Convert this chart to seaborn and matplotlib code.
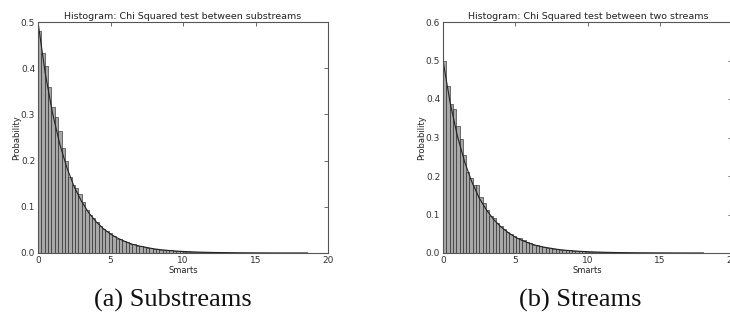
import numpy as np
import pandas as pd
import matplotlib
matplotlib.use("Agg")
import matplotlib.pyplot as plt
import seaborn as sns

# ---- data ----
sub_heights = [0.480, 0.433, 0.405, 0.360, 0.315, 0.295, 0.265, 0.228, 0.200, 0.165,
               0.148, 0.140, 0.128, 0.110, 0.092, 0.082, 0.075, 0.068, 0.058, 0.052,
               0.047, 0.043, 0.037, 0.031, 0.030, 0.027, 0.023, 0.020, 0.019, 0.016,
               0.015, 0.013, 0.011, 0.010, 0.009, 0.008, 0.0075, 0.0065, 0.0058, 0.0060,
               0.0048, 0.0038, 0.0034, 0.0031, 0.0028, 0.0025, 0.0023, 0.0021, 0.0017, 0.0016,
               0.0015, 0.0012, 0.0011, 0.0010, 0.0009, 0.0008,
               0.0008, 0.0007, 0.0006, 0.0006, 0.0005, 0.0004, 0.0004, 0.0003, 0.0003, 0.0003,
               0.0002, 0.0002, 0.0002, 0.0001, 0.0001, 0.0001, 0.0001, 0.0001, 0.0, 0.0001,
               0.0, 0.0, 0.0, 0.0001]
sub_max = 18.6

str_heights = [0.500, 0.435, 0.387, 0.374, 0.330, 0.295, 0.255, 0.211, 0.195, 0.176,
               0.176, 0.145, 0.130, 0.112, 0.097, 0.092, 0.077, 0.070, 0.062, 0.055,
               0.049, 0.045, 0.040, 0.038, 0.033, 0.028, 0.025, 0.022, 0.020, 0.018,
               0.016, 0.014, 0.012, 0.011, 0.010, 0.009, 0.008, 0.007, 0.007, 0.006,
               0.005, 0.0045, 0.004, 0.0035, 0.003, 0.0028, 0.0024, 0.0021, 0.0019, 0.0017,
               0.0015, 0.0013, 0.0012, 0.0010, 0.0009, 0.0008,
               0.0007, 0.0007, 0.0006, 0.0005, 0.0005, 0.0004, 0.0004, 0.0003, 0.0003, 0.0002,
               0.0002, 0.0002, 0.0002, 0.0001, 0.0001, 0.0001, 0.0001, 0.0, 0.0001, 0.0,
               0.0, 0.0001, 0.0, 0.0001]
str_max = 18.3

curve_x = [0, 0.5, 1, 1.5, 2, 2.5, 3, 3.5, 4, 4.5, 5, 5.5, 6, 6.5, 7, 7.5, 8, 8.5,
           9, 9.5, 10, 11, 12, 13, 14, 15, 16, 17, 18, 18.6]
curve_y = [0.5, 0.389, 0.303, 0.236, 0.184, 0.143, 0.112, 0.087, 0.068, 0.053, 0.041,
           0.032, 0.025, 0.019, 0.015, 0.012, 0.009, 0.007, 0.0056, 0.0043, 0.0034,
           0.002, 0.0012, 0.0008, 0.0005, 0.0003, 0.0002, 0.0001, 0.0001, 0.0001]

titles = ["Histogram: Chi Squared test between substreams",
          "Histogram: Chi Squared test between two streams"]
captions = ["(a) Substreams", "(b) Streams"]
x_label = "Smarts"
y_label = "Probability"
y_max = [0.5, 0.6]
x_ticks = [0, 5, 10, 15, 20]
y_ticks = [[0.0, 0.1, 0.2, 0.3, 0.4, 0.5], [0.0, 0.1, 0.2, 0.3, 0.4, 0.5, 0.6]]

sns.set_style("white")
plt.rcParams["font.family"] = ["DejaVu Sans"]

fig = plt.figure(figsize=(7.3, 3.22), dpi=100)
W, H = 730, 322
axes = [fig.add_axes([38 / W, (H - 253) / H, 290 / W, 231 / H]),
        fig.add_axes([443 / W, (H - 253) / H, 289.5 / W, 231 / H])]

for i, (ax, heights, mx) in enumerate(zip(axes, [sub_heights, str_heights], [sub_max, str_max])):
    edges = np.linspace(0, mx, len(heights) + 1)
    centers = (edges[:-1] + edges[1:]) / 2
    df = pd.DataFrame({"x": centers, "w": heights})
    sns.histplot(data=df, x="x", weights="w", bins=[float(e) for e in edges], ax=ax,
                 color="#a8a8a8", edgecolor="#1a1a1a", linewidth=0.4, alpha=1.0)
    xs = [v for v in curve_x if v <= mx]
    ys = curve_y[:len(xs)]
    sns.lineplot(x=xs, y=ys, ax=ax, color="#222222", linewidth=0.8)
    ax.set_xlim(0, 20)
    ax.set_ylim(0, y_max[i])
    ax.set_xticks(x_ticks)
    ax.set_yticks(y_ticks[i])
    ax.set_xticklabels([str(t) for t in x_ticks])
    ax.set_yticklabels([f"{t:.1f}" for t in y_ticks[i]])
    ax.tick_params(direction="in", length=3, width=0.5, labelsize=6.5,
                   top=True, right=True, colors="#333333", pad=2)
    for s in ax.spines.values():
        s.set_visible(True)
        s.set_color("#555555")
        s.set_linewidth(0.8)
    ax.set_title(titles[i], fontsize=6.8, pad=2, color="#222222")
    ax.set_xlabel(x_label, fontsize=6, labelpad=1, color="#222222")
    ax.set_ylabel(y_label, fontsize=6, labelpad=0, color="#222222")

fig.text(173 / W, 1 - 300 / H, captions[0], ha="center", va="center",
         fontsize=19, family="Liberation Serif", color="#111111")
fig.text(580 / W, 1 - 300 / H, captions[1], ha="center", va="center",
         fontsize=19, family="Liberation Serif", color="#111111")

fig.savefig("out.png", dpi=100)
